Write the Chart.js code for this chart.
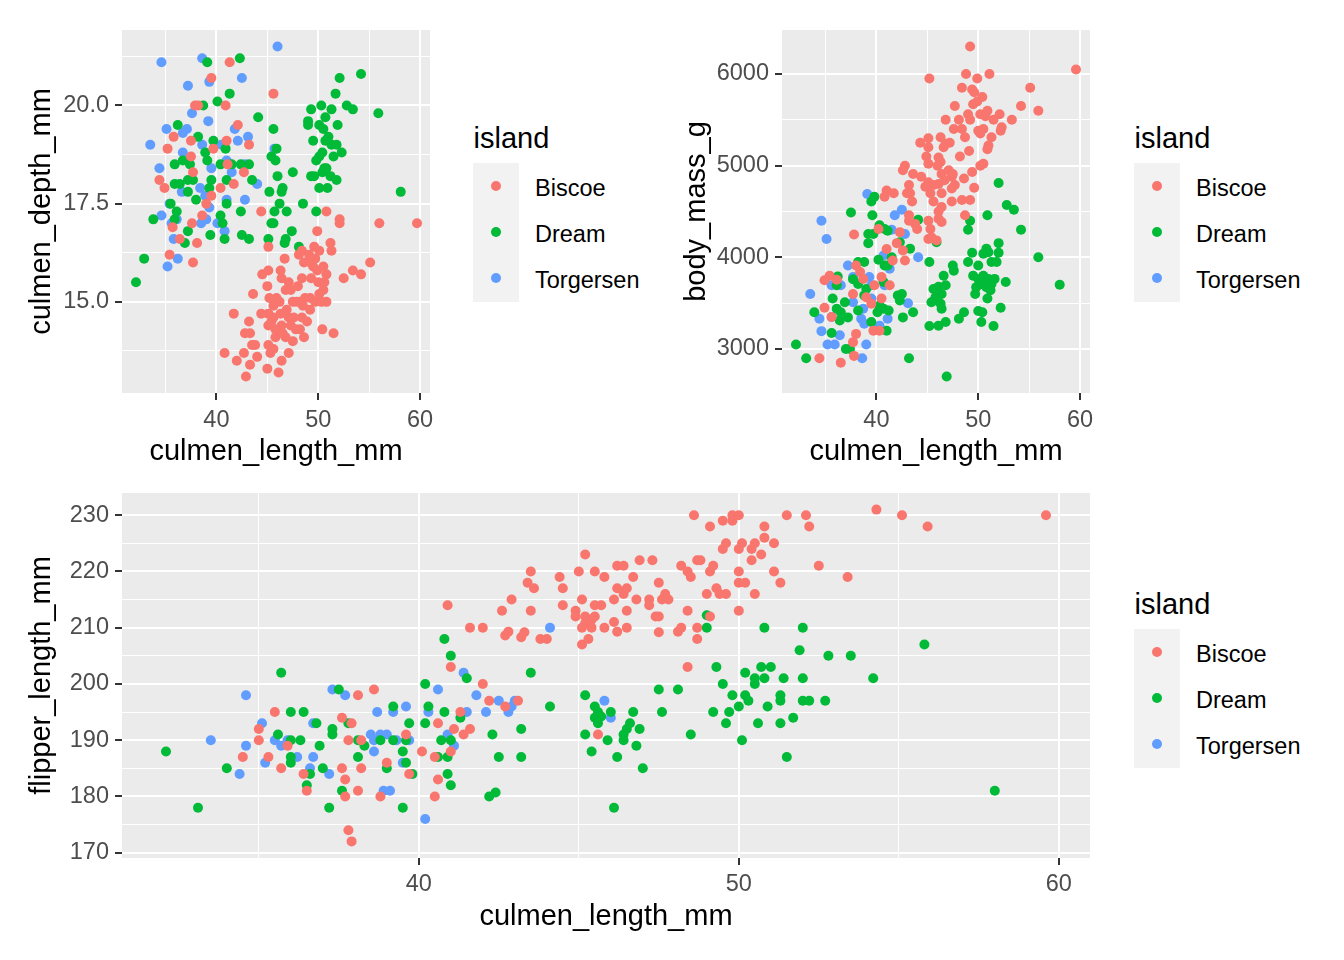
<!DOCTYPE html>
<html>
<head>
<meta charset="utf-8">
<script src="https://cdn.jsdelivr.net/npm/chart.js@4.4.1/dist/chart.umd.min.js"></script>
<style>
html,body{margin:0;padding:0;background:#ffffff;}
body{width:1344px;height:960px;position:relative;overflow:hidden;font-family:'Liberation Sans',Arial,sans-serif;}
canvas{position:absolute;}
.lg-title{position:absolute;font-size:29px;line-height:29px;color:#000;white-space:nowrap;}
.lg-keys{position:absolute;background:#F2F2F2;width:46px;height:139px;}
.lg-dot{position:absolute;width:10px;height:10px;border-radius:50%;}
.lg-label{position:absolute;font-size:23.5px;line-height:23.5px;color:#000;white-space:nowrap;}
</style>
</head>
<body>
<canvas id="c1" width="445" height="480" style="left:0px;top:0px;width:445px;height:480px"></canvas>
<canvas id="c2" width="445" height="480" style="left:660px;top:0px;width:445px;height:480px"></canvas>
<canvas id="c3" width="1105" height="490" style="left:0px;top:470px;width:1105px;height:490px"></canvas>
<script>
// ---------------- data ----------------
const islands = ['Biscoe', 'Dream', 'Torgersen'];
const islandColors = ['#F8766D', '#00BA38', '#619CFF'];

// panel 1: [culmen_length_mm, culmen_depth_mm]
const depthBiscoe = [[41.3,21.1],[39.5,20.7],[45.6,20.3],[37.9,20.0],[38.2,20.0],[40.9,20.0],[42.1,19.5],[35.8,19.2],[37.5,19.1],[41.0,19.1],[35.2,18.9],[39.7,18.9],[43.2,19.0],[37.5,18.7],[41.1,18.5],[37.7,18.3],[34.9,17.9],[34.4,18.1],[42.7,18.3],[41.7,18.0],[40.4,17.9],[39.5,17.7],
[39.0,17.5],[38.6,17.2],[37.6,17.0],[38.1,16.5],[37.7,16.0],[35.4,16.2],[36.4,16.6],[35.7,16.9],[44.4,17.3],[50.8,17.3],[52.1,17.1],[52.1,17.0],[56.0,17.0],[59.7,17.0],[49.9,16.8],[51.2,16.5],[51.3,16.3],[45.1,16.4],[46.7,16.1],[48.4,16.3],[49.1,16.2],[49.7,16.1],[50.1,16.3],[49.2,16.0],[48.6,16.0],[50.5,15.9],[50.8,15.7],[49.9,15.8],[49.3,15.6],[48.4,15.6],[55.1,16.0],[53.4,15.8],[54.2,15.7],[52.5,15.6],[44.5,15.7],[45.1,15.8],[46.3,15.8],[46.4,15.6],[47.1,15.5],[46.8,15.3],[47.3,15.3],[45.0,15.4],[43.6,15.2],[45.9,15.1],[46.2,15.0],[45.6,14.9],[45.2,15.1],[47.5,15.0],[48.2,15.0],[48.7,15.1],[49.2,15.1],[49.7,15.0],[50.1,15.2],[50.5,15.3],[50.3,15.0],[50.8,15.0],[49.2,14.8],[48.5,14.9],[47.9,15.0],[41.7,14.7],[44.4,14.7],[45.1,14.7],[45.6,14.6],[46.3,14.7],[47.1,14.6],[47.3,14.4],[46.4,14.4],[45.8,14.3],[45.1,14.4],[45.8,14.1],[46.8,14.1],[47.5,14.0],[46.5,14.2],[48.4,14.6],[48.9,14.5],[48.2,14.3],[48.6,14.1],[47.8,14.3],[43.2,14.5],[42.8,14.2],[43.3,14.2],[43.5,13.9],[43.8,13.9],[50.4,14.3],[51.5,14.2],[45.1,13.9],[45.6,13.8],[45.3,13.7],[40.8,13.7],[42.7,13.7],[42.0,13.5],[44.0,13.6],[43.3,13.4],[47.1,13.7],[46.4,13.5],[45.0,13.3],[46.1,13.2],[42.9,13.1],
[49.5,15.9],[48.1,16.2],[50.0,15.5],[46.9,14.8],[47.6,14.6],[45.4,14.5],[49.6,16.4],[48.0,15.4],[50.6,15.5]];
const depthDream = [[39.1,21.1],[42.3,21.2],[41.3,20.3],[40.1,20.1],[38.7,20.0],[52.1,20.7],[54.2,20.8],[51.7,20.3],[49.3,19.9],[50.3,20.0],[51.3,19.9],[52.8,20.0],[53.4,19.9],[55.9,19.8],[49.0,19.6],[49.0,19.5],[50.1,19.5],[50.7,19.7],[50.5,19.4],[51.9,19.5],[44.1,19.7],[45.6,19.4],[36.2,19.5],[38.2,19.2],[39.7,19.1],[51.0,19.2],[50.7,19.1],[51.3,19.0],[51.8,19.0],[52.3,18.8],[51.5,18.7],[50.4,18.8],[50.1,18.7],[49.8,18.6],[49.5,19.1],[45.9,18.9],[45.4,18.7],[45.8,18.6],[50.6,18.4],[50.8,18.4],[50.4,18.3],[49.3,18.2],[49.6,18.2],[51.2,18.2],[51.8,18.1],[50.1,17.9],[50.9,17.9],[47.5,18.3],[46.0,18.2],[46.5,17.9],[46.4,17.8],[45.2,17.8],[58.1,17.8],[43.5,18.1],[43.2,18.5],[42.4,18.5],[41.5,18.5],[40.4,18.5],[35.9,18.5],[36.7,18.6],[37.4,18.5],[38.9,18.8],[39.1,18.6],[40.9,18.9],[35.9,18.0],[36.4,18.0],[37.2,18.1],[37.7,18.1],[39.5,18.1],[41.0,18.1],[39.3,17.9],[37.2,17.8],[38.0,17.6],[35.5,17.5],[41.0,17.5],[42.4,17.3],[45.7,17.3],[46.2,17.5],[46.9,17.3],[48.5,17.5],[49.8,17.3],
[33.8,17.1],[36.1,17.3],[35.9,17.1],[37.2,16.8],[36.9,16.5],[39.4,16.7],[40.4,17.2],[40.6,17.0],[40.8,16.6],[42.5,16.7],[43.2,16.6],[45.1,16.6],[45.4,17.0],[45.6,17.0],[47.4,16.8],[46.8,16.6],[46.7,16.5],[48.1,16.4],[32.9,16.1],[32.1,15.5]];
const depthTorgersen = [[46.0,21.5],[34.6,21.1],[38.6,21.2],[37.2,20.5],[39.3,20.6],[42.5,20.7],[37.6,19.8],[39.2,19.6],[35.1,19.4],[37.1,19.4],[36.7,19.3],[41.8,19.4],[33.5,19.0],[42.1,19.1],[43.1,19.2],[40.5,19.0],[36.7,18.8],[38.6,19.0],[34.4,18.4],[39.5,18.4],[41.0,18.6],[41.5,18.3],[42.8,18.5],[44.0,18.0],[38.4,17.9],[41.0,17.6],[42.8,17.6],[38.9,17.7],[36.6,17.8],[45.7,18.9],[35.4,17.5],
[34.6,17.2],[35.6,17.0],[36.1,17.1],[38.5,17.0],[39.0,17.1],[39.3,17.4],[40.1,17.0],[40.8,16.8],[35.8,16.6],[36.2,16.1],[35.2,15.9]];

// panel 2: [culmen_length_mm, body_mass_g]
const massBiscoe = [[49.2,6300],[59.6,6050],[45.2,5950],[48.8,6000],[49.9,5950],[51.1,6000],[48.4,5850],[49.4,5830],[49.6,5800],[50.4,5750],[49.9,5700],[49.5,5670],[55.1,5850],[47.7,5650],[54.2,5650],[55.9,5600],[49.0,5560],[49.2,5500],[50.2,5560],[50.9,5600],[50.7,5540],[52.1,5560],[51.5,5500],[53.3,5500],[46.8,5500],[48.1,5500],[47.6,5400],[48.4,5400],[48.7,5310],[50.0,5380],[50.5,5400],[50.2,5350],[52.3,5420],[52.2,5380],[51.3,5310],[51.0,5220],[50.9,5180],[44.3,5250],[45.1,5300],[46.3,5310],[47.2,5250],[45.1,5200],[46.6,5200],[46.8,5240],[49.1,5160],[48.2,5100],[44.9,5100],[45.1,5020],[46.1,5090],[46.3,5040],[46.0,5000],[50.2,5000],[50.5,5020],[49.4,4930],[42.8,5000],[42.6,4950],[43.6,4910],[44.4,4880],[45.1,4820],[45.6,4790],[46.1,4800],[46.4,4910],[47.1,4950],[47.4,4880],[46.7,4840],[47.5,4910],[48.6,4860],[49.6,4760],[43.2,4790],[43.3,4700],[43.5,4610],[43.0,4700],[41.0,4730],[41.7,4700],[40.8,4660],[44.8,4770],[45.3,4700],[45.6,4610],[46.4,4700],[47.4,4750],[47.7,4790],[47.4,4610],[48.4,4625],[49.2,4625],[46.4,4550],[46.1,4500],[48.7,4460],[43.2,4460],
[43.8,4365],[44.0,4310],[43.2,4400],[45.1,4400],[46.1,4420],[46.4,4385],[45.3,4310],[45.4,4220],[45.1,4200],[45.9,4185],[37.8,4250],[40.2,4310],[42.3,4275],[41.0,4090],[42.0,4155],[42.6,4075],[42.8,3965],[41.6,3965],[38.0,3910],[38.4,3840],[38.7,3765],[35.4,3800],[34.9,3750],[36.1,3755],[40.5,3785],[41.3,3695],[39.8,3695],[37.7,3600],[39.0,3565],[39.5,3495],[40.5,3550],[34.9,3450],[35.6,3350],[39.7,3200],[40.3,3200],[38.0,3165],[37.7,3075],[37.8,2925],[34.4,2900],[36.5,2850]];
const massDream = [[52.0,4810],[52.8,4570],[53.5,4520],[50.9,4460],[39.8,4660],[39.5,4610],[37.5,4490],[39.6,4460],
[49.2,4400],[49.0,4300],[54.2,4300],[44.1,4410],[40.3,4350],[40.8,4310],[41.1,4290],[39.2,4255],[39.7,4255],[39.2,4155],[42.3,4165],[43.3,4095],[45.9,4165],[52.0,4155],[49.4,4050],[50.5,4040],[50.8,4095],[51.0,4055],[52.0,4050],[55.9,4000],[45.2,3950],[49.0,3950],[50.0,3910],[51.3,3950],[51.8,3950],[47.5,3910],[47.6,3855],[46.6,3800],[49.5,3800],[50.0,3765],[50.5,3800],[51.0,3765],[51.6,3765],[50.3,3710],[51.3,3710],[49.8,3675],[50.8,3675],[51.2,3640],[52.7,3730],[49.7,3600],[50.9,3550],[58.0,3700],[45.6,3655],[46.1,3680],[46.8,3695],[46.4,3600],[45.8,3565],[45.4,3510],[46.3,3495],[46.4,3440],[45.9,3530],[52.2,3450],[48.6,3400],[48.1,3330],[50.0,3415],[50.4,3400],[50.3,3295],[46.8,3295],[46.1,3255],[45.2,3250],[51.5,3250],[38.2,3950],[38.8,3950],[40.2,3975],[40.8,3910],[41.1,3910],[41.5,4000],[36.2,3790],[36.1,3695],[37.7,3760],[38.2,3710],[39.0,3655],[38.8,3585],[40.7,3730],[35.7,3550],[36.1,3440],[36.9,3510],[36.5,3400],[37.2,3345],[36.4,3310],[33.9,3400],[38.2,3420],[40.3,3475],[40.7,3440],[41.2,3420],[40.1,3400],[42.1,3585],[42.5,3600],[42.3,3530],[42.6,3345],[43.6,3400],[39.5,3295],[41.0,3200],[35.6,3175],[37.0,3000],[37.4,3000],[32.1,3050],[33.1,2900],[43.2,2900],[46.9,2700]];
const massTorgersen = [[39.1,4690],[42.5,4520],[41.8,4460],[41.5,4300],[34.6,4400],[35.1,4200],[42.8,4255],[44.1,4000],[40.7,4020],[41.3,3875],[37.2,3910],[37.7,3785],[39.3,3785],[39.5,3695],[36.5,3695],[35.6,3695],[33.5,3600],[40.8,3695],[37.7,3510],[38.7,3440],[39.5,3550],[43.1,3500],[34.4,3330],[35.6,3350],[38.5,3330],[38.8,3275],[41.1,3330],[34.6,3195],[36.4,3150],[35.9,3050],[35.2,3050],[39.0,3050],[40.3,3255],[38.6,2900]];

// panel 3: [culmen_length_mm, flipper_length_mm]
const flipperBiscoe = [[38.1,198],[38.6,199],[35.5,195],[37.6,194],[37.9,193],[35.0,192],[35.0,190],[34.5,187],[35.3,187],[35.9,189],[37.8,190],[38.2,190],[39.6,191],[35.7,185],[36.4,184],[36.5,181],[37.6,185],[37.7,183],[38.2,185],[39.0,186],[39.7,184],[37.7,180],[38.1,181],[38.8,180],[37.8,174],[37.9,172],
[41.0,203],[42.0,200],[42.2,197],[42.7,196],[43.1,197],[41.3,195],[40.6,193],[41.1,192],[41.4,191],[41.6,192],[40.1,188],[40.5,187],[41.0,188],[40.6,183],[40.5,180],[45.6,191],[48.4,203],
[40.9,214],[41.6,210],[42.0,210],[42.6,213],[42.9,215],[42.7,208.6],[42.8,209.3],[43.2,208.3],[43.3,209.2],[43.4,218],[43.5,220],[43.6,217],[43.5,213],[43.8,208],[44.0,208],[44.4,219],[44.5,217],[44.5,214],[45.0,220],[45.2,223],[45.1,215],[45.2,212],[45.2,210.8],[45.1,210],[45.1,207],[45.3,208],[45.4,210],[45.5,212],[45.4,211.4],[44.9,213],[44.9,212],[45.5,220],[45.5,214],[45.7,214],[45.8,219],[45.8,210],[46.1,211],[46.1,215],[46.2,217],[46.4,216],[46.5,217],[46.2,221],[46.4,221],[46.2,209.3],[46.5,213],[46.5,210],[46.7,219],[46.9,222],[47.3,222],[46.8,215],[47.2,215],[47.2,214],[47.5,218],[47.4,212],[47.5,212],[47.5,209.2],[47.6,215],[47.7,216],[47.8,215],[48.1,209.3],[48.2,210],[48.2,221],[48.4,220],[48.5,219],[48.4,213],[48.7,222],[48.8,222],[48.7,210],[48.7,208],[48.6,230],[49.0,216],[49.1,212],[49.1,220],[49.2,221],[49.1,228],[49.3,217],[49.4,216],[49.6,216],[49.5,229],[49.8,229],[49.8,230],[50.0,230],[49.5,224],[49.6,225],[50.0,213],[50.0,220],[50.0,224],[50.1,225],[50.0,218],[50.2,218],[50.4,224],[50.5,225],[50.7,223],[50.4,222],[50.5,216],[50.8,228],[50.8,226],[51.1,225],[51.1,220],[51.3,218],[51.5,230],[52.1,230],[52.2,228],[52.5,221],[53.4,219],[54.3,231],[55.1,230],[55.9,228],[59.6,230]];
const flipperDream = [[40.8,208],[41.0,205],[35.7,202],[40.2,200],[40.3,196],[40.8,195],[40.2,193],[37.5,199],[39.2,196],[39.7,193],[36.0,195],[36.4,195],[36.8,193],[37.8,193],[37.3,192],[37.3,191],[35.6,191],[36.0,190],[36.3,190],[36.9,189],[38.1,190],[38.3,189],[38.8,190],[39.2,190],[39.6,190],[40.7,190],[39.5,188],[36.0,187],[36.0,186],[38.1,187],[39.6,186],[40.6,187],[40.9,187],[32.1,188],[34.0,185],[36.6,184],[37.0,185],[39.0,185],[39.8,184],[40.9,184],[36.5,182],[37.6,181],[41.0,182],[33.1,178],[37.2,178],[39.5,178],
[41.5,201],[43.5,202],[41.3,194],[44.1,196],[42.3,191],[43.2,192],[41.0,190],[42.5,187],[43.2,187],[42.2,180],[42.4,180.7],[45.2,198],[45.5,196],[45.6,195],[45.7,194.2],[45.5,194],[45.6,193],[46.0,195],[45.2,191],[45.9,190],[45.4,188],[46.2,187],[46.7,195],[46.6,193],[46.5,192],[46.4,191],[46.4,190],[46.9,192],[46.8,189],[47.0,185],[46.1,178],[47.5,199],[48.1,199],[47.6,195],[48.5,191],[49.0,212.2],
[49.0,210],[50.8,210],[52.0,210],[55.8,207],[51.9,206],[52.8,205],[53.5,205],[49.3,203],[50.2,202],[50.7,203],[51.0,203],[50.5,201],[50.8,201],[50.5,200],[51.4,201],[52.0,201],[54.2,201],[49.5,200],[49.8,198],[50.2,198],[50.3,197],[50.0,196],[51.3,198],[51.3,197],[50.9,196],[52.0,197],[52.2,197],[52.7,197],[49.2,195],[49.7,195],[49.6,193],[50.6,193],[51.3,193],[51.7,194],[50.1,190],[51.5,187],[58.0,181]];
const flipperTorgersen = [[34.6,198],[37.3,199],[37.7,198],[35.1,193],[36.7,193],[33.5,190],[34.6,189],[35.5,190],[35.9,190],[35.7,189],[36.2,187],[36.7,187],[35.2,186],[34.4,184],[36.6,185],[37.2,184],[38.7,195],[39.2,195],[39.6,196],[40.3,195],[40.6,199],[38.5,191],[38.8,191],[39.0,191],[38.6,190],[39.3,190],[39.7,190],[38.6,188],[39.5,186],[38.9,181],[39.1,181],[40.9,191],[40.2,176],
[41.4,202],[41.8,198],[42.5,197],[43.0,197],[42.9,196],[42.8,195],[41.5,195],[42.1,195],[41.1,189],[45.8,197],[46.0,194],[44.1,210]];

// axis breaks
const lengthBreaks = [35, 40, 45, 50, 55, 60];
const lengthLabels = [40, 50, 60];
const depthBreaks = [13.75, 15, 16.25, 17.5, 18.75, 20, 21.25];
const depthLabels = [15, 17.5, 20];
const massBreaks = [3000, 3500, 4000, 4500, 5000, 5500, 6000];
const massLabels = [3000, 4000, 5000, 6000];
const flipperBreaks = [170, 175, 180, 185, 190, 195, 200, 205, 210, 215, 220, 225, 230];
const flipperLabels = [170, 180, 190, 200, 210, 220, 230];

// axis limits (data range with 5% expansion)
const lengthRange = [30.725, 60.975];
const depthRange = [12.68, 21.92];
const massRange = [2520, 6480];
const flipperRange = [169.05, 233.95];

// ---------------- drawing ----------------
const FONT = "'Liberation Sans', Arial, sans-serif";

const panelBg = {
  id: 'panelBg',
  beforeDraw(chart) {
    const { ctx, chartArea: a } = chart;
    ctx.save();
    ctx.fillStyle = '#EBEBEB';
    ctx.fillRect(a.left, a.top, a.right - a.left, a.bottom - a.top);
    ctx.restore();
  }
};

function axisOpts(o) {
  const isMajor = c => c.tick && o.labels.includes(c.tick.value);
  return {
    type: 'linear',
    position: o.horizontal ? 'bottom' : 'left',
    min: o.range[0],
    max: o.range[1],
    afterBuildTicks: s => { s.ticks = o.breaks.map(v => ({ value: v })); },
    afterFit: s => { if (o.horizontal) s.height = o.size; else s.width = o.size; },
    ticks: {
      autoSkip: false, maxRotation: 0, minRotation: 0,
      padding: o.tickPad,
      color: '#4D4D4D',
      font: { family: FONT, size: 23.5 },
      callback: v => o.labels.includes(v) ? o.fmt(v) : ''
    },
    grid: {
      color: '#FFFFFF',
      lineWidth: c => isMajor(c) ? 2 : 1,
      tickColor: c => isMajor(c) ? '#333333' : 'rgba(0,0,0,0)',
      tickLength: 7,
      tickWidth: 2,
      drawTicks: true
    },
    border: { display: false },
    title: {
      display: true, text: o.title, color: '#000000',
      font: { family: FONT, size: 29 },
      padding: o.titlePad
    }
  };
}

function datasets(list) {
  return list.map((pts, i) => ({
    label: islands[i],
    data: pts.map(([x, y]) => ({ x, y })),
    backgroundColor: islandColors[i],
    borderWidth: 0,
    pointRadius: 5,
    pointHoverRadius: 5
  }));
}

function makeChart(id, list, xo, yo, pad) {
  return new Chart(document.getElementById(id), {
    type: 'scatter',
    data: { datasets: datasets(list) },
    options: {
      responsive: false,
      animation: false,
      devicePixelRatio: 1,
      layout: { padding: pad },
      plugins: { legend: { display: false }, tooltip: { enabled: false } },
      scales: { x: axisOpts(xo), y: axisOpts(yo) }
    },
    plugins: [panelBg]
  });
}

const fmtInt = v => String(v);
const fmt1 = v => v.toFixed(1);

makeChart('c1', [depthBiscoe, depthDream, depthTorgersen],
  { horizontal: true, range: lengthRange, breaks: lengthBreaks, labels: lengthLabels, fmt: fmtInt, size: 87, tickPad: 6.5, title: 'culmen_length_mm', titlePad: { top: 0, bottom: 10.6 } },
  { horizontal: false, range: depthRange, breaks: depthBreaks, labels: depthLabels, fmt: fmt1, size: 122, tickPad: 6, title: 'culmen_depth_mm', titlePad: { top: 24.3, bottom: 0 } },
  { top: 30, right: 15, left: 0, bottom: 0 });

makeChart('c2', [massBiscoe, massDream, massTorgersen],
  { horizontal: true, range: lengthRange, breaks: lengthBreaks, labels: lengthLabels, fmt: fmtInt, size: 87, tickPad: 6.5, title: 'culmen_length_mm', titlePad: { top: 0, bottom: 10.6 } },
  { horizontal: false, range: massRange, breaks: massBreaks, labels: massLabels, fmt: fmtInt, size: 122, tickPad: 6, title: 'body_mass_g', titlePad: { top: 19.3, bottom: 0 } },
  { top: 30, right: 15, left: 0, bottom: 0 });

makeChart('c3', [flipperBiscoe, flipperDream, flipperTorgersen],
  { horizontal: true, range: lengthRange, breaks: lengthBreaks, labels: lengthLabels, fmt: fmtInt, size: 102, tickPad: 5.5, title: 'culmen_length_mm', titlePad: { top: 0, bottom: 25.6 } },
  { horizontal: false, range: flipperRange, breaks: flipperBreaks, labels: flipperLabels, fmt: fmtInt, size: 122, tickPad: 6, title: 'flipper_length_mm', titlePad: { top: 24.3, bottom: 0 } },
  { top: 23, right: 15, left: 0, bottom: 0 });

// ---------------- legends ----------------
function makeLegend(ox, oy) {
  const add = (cls, css, text) => {
    const d = document.createElement('div');
    d.className = cls;
    Object.assign(d.style, css);
    if (text) d.textContent = text;
    document.body.appendChild(d);
  };
  add('lg-title', { left: (ox + 0.5) + 'px', top: (oy - 39.5) + 'px' }, 'island');
  add('lg-keys', { left: ox + 'px', top: oy + 'px' });
  islands.forEach((name, i) => {
    add('lg-dot', { left: (ox + 18) + 'px', top: (oy + 18.3 + 46 * i) + 'px', background: islandColors[i] });
    add('lg-label', { left: (ox + 62) + 'px', top: (oy + 14.3 + 46 * i) + 'px' }, name);
  });
}
makeLegend(473, 163);
makeLegend(1134, 163);
makeLegend(1134, 629);
</script>
</body>
</html>
